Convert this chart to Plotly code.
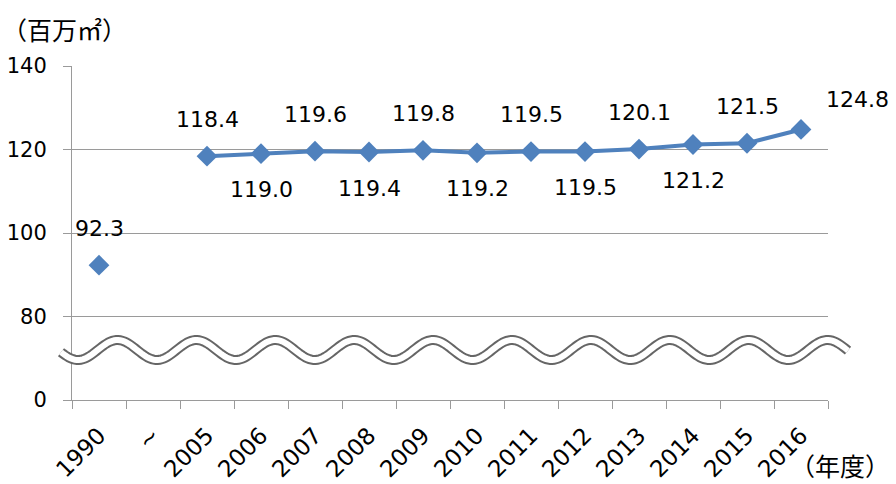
import numpy as np
import plotly.graph_objects as go

categories = ["1990", "~", "2005", "2006", "2007", "2008", "2009", "2010",
              "2011", "2012", "2013", "2014", "2015", "2016"]
values = [92.3, None, 118.4, 119.0, 119.6, 119.4, 119.8, 119.2,
          119.5, 119.5, 120.1, 121.2, 121.5, 124.8]
label_side = ["up", None, "up", "down", "up", "down", "up", "down",
              "up", "down", "up", "down", "up", "upright"]
y_tickvals = [60, 80, 100, 120, 140]
y_ticktext = ["0", "80", "100", "120", "140"]

BLUE = "#4F81BD"
GRID = "#9A9A9A"
FONT = "DejaVu Sans"

W, H = 896, 484
L, R, T, B = 72, 828, 66, 400

fig = go.Figure()
fig.add_trace(go.Scatter(
    x=categories, y=values, mode="lines+markers",
    line=dict(color=BLUE, width=4),
    marker=dict(symbol="diamond", size=16, color=BLUE),
    connectgaps=False, hoverinfo="skip", showlegend=False,
))

annotations = []
for i, (c, v, s) in enumerate(zip(categories, values, label_side)):
    if v is None:
        continue
    xs, ys = 0, 37
    if s == "down":
        ys = -36
    elif s == "upright":
        xs, ys = 56, 30
    annotations.append(dict(
        x=i, y=v, xref="x", yref="y", text=f"{v:.1f}", showarrow=False,
        xshift=xs, yshift=ys, xanchor="center", yanchor="middle",
        font=dict(family=FONT, size=22, color="black"),
    ))

annotations.append(dict(
    x=(0 - L) / (R - L), y=(B - 29) / (B - T), xref="paper", yref="paper",
    text="（百万㎡）", showarrow=False, xanchor="left", yanchor="middle",
    font=dict(family="Noto Sans CJK JP", size=25, color="black"),
))
annotations.append(dict(
    x=(788 - L) / (R - L), y=(B - 465) / (B - T), xref="paper", yref="paper",
    text="（年度）", showarrow=False, xanchor="left", yanchor="middle",
    font=dict(family="Noto Sans CJK JP", size=25, color="black"),
))

# decorative axis-break wave
px = np.linspace(61, 848, 400)
py = 350 + 10 * np.cos(np.pi * (px - 78) / 39.45)
def to_paper(xp, yp):
    return (xp - L) / (R - L), (B - yp) / (B - T)
pts = [to_paper(a, b) for a, b in zip(px, py)]
path = "M " + " L ".join(f"{a:.5f},{b:.5f}" for a, b in pts)

shapes = [
    dict(type="path", path=path, xref="paper", yref="paper",
         line=dict(color="#666666", width=10), layer="above"),
    dict(type="path", path=path, xref="paper", yref="paper",
         line=dict(color="white", width=6), layer="above"),
]

fig.update_layout(
    width=W, height=H, autosize=False,
    margin=dict(l=L, r=W - R, t=T, b=H - B, pad=0, autoexpand=False),
    paper_bgcolor="white", plot_bgcolor="white",
    font=dict(family=FONT, size=21, color="black"),
    annotations=annotations, shapes=shapes,
)
fig.update_xaxes(
    type="category", range=[-0.5, 13.5], automargin=False,
    showline=True, linecolor=GRID, linewidth=1,
    ticks="outside", tickson="boundaries", ticklen=8, tickcolor=GRID,
    tickangle=-45, showgrid=False, zeroline=False,
    ticklabelstandoff=12,
    tickfont=dict(family=FONT, size=23, color="black"),
)
fig.update_yaxes(
    range=[60, 140], tickvals=y_tickvals, ticktext=y_ticktext, automargin=False,
    showline=True, linecolor=GRID, linewidth=1,
    ticks="outside", ticklen=8, tickcolor=GRID,
    showgrid=True, gridcolor=GRID, gridwidth=1, zeroline=False,
    ticklabelstandoff=12,
    tickfont=dict(family=FONT, size=21, color="black"),
)

fig.write_html("out.html", config={"displayModeBar": False},
               post_script="document.body.style.margin='0';document.body.style.overflow='hidden';")
